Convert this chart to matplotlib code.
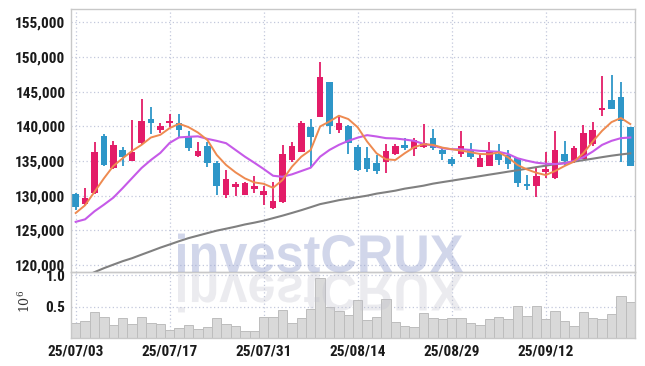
import matplotlib
matplotlib.use("Agg")
import matplotlib.pyplot as plt
import numpy as np
import pandas as pd
from matplotlib import font_manager
from matplotlib.font_manager import FontProperties
from matplotlib.patches import PathPatch
from matplotlib.textpath import TextPath
from matplotlib.ticker import FuncFormatter
from matplotlib.transforms import Affine2D, IdentityTransform

# trading days (KRX, 2025-08-15 holiday)
days = pd.bdate_range("2025-07-03", "2025-09-25")
days = days[days != pd.Timestamp("2025-08-15")]
dates = [d.strftime("%y/%m/%d") for d in days]

opens = [130190, 128800, 130385, 138560, 133990, 136585, 134950, 137550, 141010, 139470,
         140480, 140530, 138410, 135770, 137210, 134760, 130140, 131250, 130140, 131000,
         130140, 128230, 129090, 135190, 136240, 139900, 141340, 146440, 139470, 140000,
         136950, 135390, 134710, 134850, 135970, 137330, 136750, 136990, 138300, 136550,
         135340, 135970, 136600, 134130, 134320, 135960, 135820, 135480, 131730, 131400,
         133410, 132550, 135960, 135000, 135340, 137500, 142310, 143800, 144180, 139900]
highs = [130430, 131100, 137700, 138850, 137840, 136970, 140960, 144000, 142790, 140480,
         141830, 141830, 139330, 137690, 137690, 135000, 133650, 131970, 131970, 132780,
         131390, 131970, 137250, 137780, 140700, 141010, 149310, 146440, 141340, 140240,
         137300, 136990, 135870, 137480, 137380, 138300, 138300, 140290, 139610, 136990,
         135580, 139270, 137570, 135970, 137670, 137400, 136640, 135480, 133030, 134040,
         136300, 139300, 137880, 137110, 140140, 140600, 147260, 147400, 146440, 139950]
lows = [127880, 128700, 130300, 134280, 133900, 134280, 134950, 137450, 138940, 139090,
        139900, 138460, 136490, 135530, 134180, 130140, 129710, 129900, 130050, 130430,
        128600, 128130, 128990, 134900, 136240, 133980, 141290, 138900, 139090, 136050,
        133600, 133400, 133150, 133300, 135870, 136600, 135730, 136840, 136600, 135150,
        134320, 135580, 135240, 134100, 134320, 134380, 133800, 131200, 130820, 129760,
        132550, 132450, 134380, 134710, 135240, 137110, 141440, 142500, 134860, 134230]
closes = [128365, 129615, 136250, 134375, 137355, 135530, 136345, 140720, 140480, 140000,
          140720, 139470, 136830, 136490, 134760, 131390, 132450, 131730, 131780, 131440,
          130720, 129180, 136050, 137210, 140460, 138460, 147160, 140050, 140530, 137600,
          133700, 133880, 133540, 136500, 137180, 136940, 138060, 137570, 136940, 135970,
          134610, 137180, 135580, 135490, 136260, 135100, 134620, 131830, 131400, 132790,
          133800, 136640, 135000, 136830, 139040, 139520, 142640, 142550, 140820, 134330]

ma_orange = [127500, 128620, 130550, 132490, 134270, 135390, 136450, 137320, 138380, 138770,
             139740, 140360, 139880, 139100, 138040, 135870, 134420, 133360, 132490, 131910,
             131710, 131130, 132250, 134170, 135620, 136590, 139970, 140690, 141520, 141040,
             139850, 137800, 136110, 135240, 135140, 136110, 136980, 137420, 137320, 136930,
             136690, 136490, 136260, 136010, 135970, 136230, 135530, 134420, 133790, 133300,
             132970, 133550, 134270, 134900, 136110, 137800, 139350, 140600, 141190, 140320]
ma_purple = [126230, 126590, 127750, 128700, 129710, 131090, 132540, 133980, 135140, 136160,
             137610, 138400, 138480, 138550, 138190, 137900, 137560, 136590, 135620, 134750,
             133840, 132870, 132720, 133070, 133550, 134030, 135620, 136590, 137320, 137900,
             138360, 138720, 138530, 138290, 138240, 138090, 137900, 137460, 137220, 136840,
             136690, 136690, 136590, 136450, 136400, 136320, 136010, 135390, 135040, 134750,
             134610, 134560, 134660, 135000, 135530, 136350, 137320, 137900, 138290, 138380]
ma_gray = [117750, 118330, 118980, 119550, 120060, 120560, 120990, 121500, 122000, 122510,
           122970, 123440, 123880, 124240, 124600, 124960, 125240, 125530, 125850, 126110,
           126400, 126760, 127120, 127510, 127910, 128340, 128780, 129060, 129350, 129570,
           129780, 130000, 130290, 130500, 130720, 131010, 131220, 131440, 131730, 131950,
           132160, 132380, 132590, 132810, 133030, 133240, 133460, 133670, 133890, 134110,
           134320, 134540, 134710, 134900, 135120, 135330, 135550, 135760, 135940, 136100]

# volume in millions of shares
volume = [0.245, 0.278, 0.408, 0.343, 0.212, 0.327, 0.229, 0.343, 0.245, 0.229,
          0.131, 0.163, 0.212, 0.147, 0.180, 0.327, 0.229, 0.196, 0.114, 0.114,
          0.343, 0.343, 0.441, 0.245, 0.327, 0.458, 0.964, 0.490, 0.425, 0.364,
          0.605, 0.294, 0.343, 0.621, 0.250, 0.196, 0.180, 0.392, 0.327, 0.310,
          0.327, 0.327, 0.234, 0.212, 0.310, 0.343, 0.310, 0.507, 0.359, 0.507,
          0.310, 0.425, 0.278, 0.196, 0.408, 0.327, 0.310, 0.376, 0.670, 0.572]

RED = "#e31c68"
BLUE = "#2e96c8"
GRID = "#c3c8dc"
SPINE = "#c8c8c8"

available = {f.name for f in font_manager.fontManager.ttflist}
tick_font = next((f for f in ["Liberation Sans Narrow", "Roboto Condensed", "Open Sans Condensed"]
                  if f in available), None)
if tick_font is None:
    tick_font, tick_size = "DejaVu Sans", 8.2
else:
    tick_size = 11
plt.rcParams["mathtext.fontset"] = "dejavuserif"

W, H = 645, 366
fig = plt.figure(figsize=(W / 100, H / 100), dpi=100)
ax = fig.add_axes([71 / W, 1 - 272 / H, 564 / W, 263 / H])
ax2 = fig.add_axes([71 / W, 1 - 338 / H, 564 / W, 66 / H], sharex=ax)
for a in (ax, ax2):
    a.set_facecolor("none")

x = np.arange(len(dates))
o = np.array(opens)
c = np.array(closes)
colors = np.where(c >= o, RED, BLUE)

ax.vlines(x, lows, highs, colors=colors, lw=1.3, zorder=2)
ax.bar(x, np.maximum(np.abs(c - o), 150), bottom=np.minimum(o, c), width=0.72,
       color=colors, linewidth=0, zorder=2.5)
ax.plot(x, ma_gray, color="#808080", lw=1.5, zorder=3)
ax.plot(x, ma_purple, color="#c65ae8", lw=1.5, zorder=3)
ax.plot(x, ma_orange, color="#ee8a50", lw=1.4, zorder=3)

ax.set_xlim(-0.5, len(dates) - 0.5)
ax.set_ylim(119000, 156900)
ax.set_yticks(np.arange(120000, 155001, 5000))
ax.yaxis.set_major_formatter(FuncFormatter(lambda v, p: f"{v:,.0f}"))

ax2.bar(x, volume, width=1.0, color="#d9d9d9", edgecolor="#bdbdbd", linewidth=0.7, zorder=2)
ax2.set_ylim(0, 1.055)
ax2.set_yticks([0.5, 1.0])
ax2.set_yticklabels(["0.5", "1.0"])
ax2.set_ylabel(r"$10^6$", fontsize=9, color="#333333")
ax2.yaxis.set_label_coords(-0.067, 0.55)

ticks = list(range(0, len(dates), 10))
ax2.set_xticks(ticks)
ax2.set_xticklabels([dates[i] for i in ticks])
ax.tick_params(axis="x", labelbottom=False)

for a in (ax, ax2):
    a.grid(True, color=GRID, linestyle=(0, (1, 2)), lw=0.9, zorder=0)
    a.tick_params(length=0, pad=4, labelsize=tick_size, labelcolor="#1a1a1a")
    for lab in a.get_xticklabels() + a.get_yticklabels():
        lab.set_fontfamily(tick_font)
        lab.set_fontweight("bold")
    for s in a.spines.values():
        s.set_color(SPINE)
        s.set_linewidth(1.0)
ax2.tick_params(axis="x", pad=5)

# watermark with reflection (pixel coordinates)
fp = FontProperties(family="Liberation Sans", weight="bold")
tp = TextPath((0, 0), "investCRUX", size=100, prop=fp)
bb = tp.get_extents()
sx = 285 / bb.width
sy = 38 / 71.6
base = H - 272
tr = Affine2D().translate(-bb.x0, 0).scale(sx, sy).translate(178, base)
fig.add_artist(PathPatch(tr.transform_path(tp), transform=IdentityTransform(),
                         facecolor="#9aa5d2", edgecolor="none", alpha=0.45, zorder=5))
tr2 = Affine2D().translate(-bb.x0, 0).scale(sx, -sy).translate(178, base - 2)
fig.add_artist(PathPatch(tr2.transform_path(tp), transform=IdentityTransform(),
                         facecolor="#c0c0cc", edgecolor="none", alpha=0.3, zorder=5))

fig.savefig("out.png", dpi=100)
